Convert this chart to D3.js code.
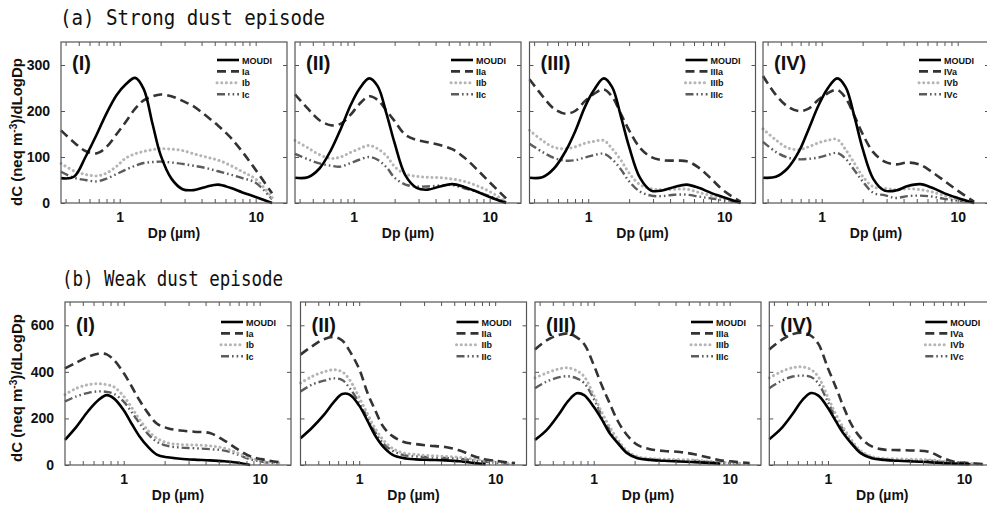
<!DOCTYPE html>
<html>
<head>
<meta charset="utf-8">
<script src="https://cdn.jsdelivr.net/npm/d3@7"></script>
<style>
body { margin: 0; background: #fff; }
svg { display: block; }
</style>
</head>
<body>
<div id="chart"></div>
<script>
// size distributions, dC/dLogDp vs Dp

var panelNames = ["I", "II", "III", "IV"];
var xTickLabels = [1, 10];
var strongTicks = [0, 100, 200, 300];
var weakTicks = [0, 200, 400, 600];

// (a) strong dust episode: Dp grid (um)
var topDp = [0.37, 0.46, 0.56, 0.68, 0.8, 0.95, 1.1, 1.3, 1.5, 1.75, 2.0, 2.4, 2.9, 3.5, 4.3, 5.3, 6.5, 8, 10, 13.2];

var strongMOUDI = [
  [54, 57, 100, 150, 195, 235, 257, 272, 248, 170, 104, 53, 30, 28, 35, 40, 33, 23, 13, 0],
  [55, 56, 75, 115, 160, 213, 248, 271, 254, 192, 130, 60, 33, 29, 36, 41, 35, 25, 13, 0],
  [55, 56, 75, 112, 155, 210, 245, 271, 252, 185, 122, 55, 27, 27, 35, 40, 33, 22, 12, 0],
  [55, 57, 75, 112, 160, 213, 248, 271, 252, 185, 118, 52, 27, 27, 37, 41, 33, 21, 11, 0]
];
var strongA = [
  [158, 132, 113, 108, 122, 150, 175, 205, 223, 232, 236, 232, 222, 210, 190, 168, 143, 111, 72, 21],
  [236, 205, 180, 169, 172, 192, 215, 232, 224, 200, 178, 148, 137, 132, 126, 117, 99, 74, 45, 10],
  [269, 233, 205, 194, 200, 222, 237, 247, 231, 192, 158, 120, 100, 93, 92, 91, 77, 53, 26, 3],
  [276, 235, 210, 200, 205, 225, 238, 246, 228, 188, 150, 110, 90, 84, 88, 83, 67, 48, 27, 3]
];
var strongB = [
  [86, 70, 62, 59, 65, 80, 97, 107, 112, 116, 118, 117, 114, 107, 100, 93, 82, 68, 52, 12],
  [136, 120, 105, 97, 100, 110, 118, 125, 118, 102, 79, 63, 58, 56, 55, 52, 47, 38, 25, 3],
  [158, 136, 121, 118, 122, 130, 134, 136, 118, 92, 65, 40, 31, 29, 30, 30, 23, 16, 9, 1],
  [161, 137, 120, 116, 122, 131, 136, 138, 116, 85, 58, 35, 32, 29, 31, 29, 24, 16, 8, 1]
];
var strongC = [
  [68, 55, 50, 47, 53, 63, 72, 81, 87, 89, 90, 88, 85, 81, 76, 69, 62, 54, 44, 8],
  [107, 95, 86, 81, 79, 87, 94, 100, 94, 77, 55, 40, 36, 36, 38, 39, 32, 25, 15, 2],
  [129, 111, 98, 92, 93, 99, 104, 107, 95, 72, 47, 25, 16, 15, 18, 18, 14, 10, 6, 1],
  [133, 111, 99, 95, 96, 99, 104, 109, 96, 70, 47, 22, 17, 11, 15, 16, 14, 9, 5, 1]
];

// (b) weak dust episode: Dp grid (um)
var bottomDp = [0.37, 0.45, 0.55, 0.65, 0.75, 0.85, 1.0, 1.15, 1.3, 1.5, 1.75, 2.1, 2.6, 3.3, 4.3, 5.5, 7, 8.5, 11, 14];

var weakMOUDI = [
  [108, 165, 233, 278, 300, 285, 235, 175, 125, 80, 45, 33, 27, 23, 20, 16, 10, 0, null, null],
  [115, 160, 215, 270, 305, 302, 255, 190, 130, 79, 45, 30, 24, 22, 20, 16, 8, 3, null, null],
  [108, 150, 215, 275, 308, 300, 250, 195, 140, 95, 52, 29, 22, 18, 15, 12, 9, 5, null, null],
  [111, 155, 220, 280, 309, 298, 245, 185, 135, 90, 50, 29, 22, 18, 15, 12, 8, 6, 3, null]
];
var weakA = [
  [415, 440, 465, 478, 475, 450, 395, 335, 280, 225, 178, 158, 148, 143, 137, 105, 65, 38, 22, 12],
  [474, 510, 540, 550, 535, 490, 412, 310, 240, 165, 125, 100, 90, 83, 77, 62, 38, 24, 15, 8],
  [496, 535, 558, 565, 548, 520, 430, 340, 270, 190, 130, 86, 68, 60, 56, 46, 32, 20, 14, 8],
  [496, 535, 562, 568, 555, 520, 415, 330, 250, 170, 115, 80, 66, 64, 62, 57, 30, 14, 8, 4]
];
var weakB = [
  [302, 330, 345, 349, 345, 335, 295, 245, 198, 150, 115, 95, 88, 86, 82, 72, 50, 30, 15, 8],
  [352, 380, 400, 409, 400, 366, 290, 220, 160, 108, 72, 52, 45, 40, 37, 33, 25, 20, 12, 5],
  [374, 395, 412, 417, 405, 380, 300, 225, 168, 110, 62, 36, 28, 25, 23, 21, 16, 12, 9, 5],
  [374, 400, 418, 421, 410, 378, 290, 215, 160, 105, 60, 36, 28, 26, 24, 22, 17, 12, 6, 3]
];
var weakC = [
  [273, 295, 310, 316, 314, 305, 272, 225, 182, 135, 100, 82, 75, 72, 68, 62, 43, 25, 12, 6],
  [316, 345, 362, 372, 365, 330, 268, 205, 145, 93, 62, 43, 37, 33, 30, 27, 19, 14, 8, 3],
  [330, 358, 376, 381, 372, 352, 285, 210, 155, 100, 55, 32, 24, 21, 19, 18, 13, 10, 7, 4],
  [330, 360, 380, 384, 378, 350, 270, 200, 150, 95, 55, 32, 24, 20, 19, 18, 14, 10, 5, 3]
];

var svgWidth = 987;
var svgHeight = 511;
var panelW = 226;
var boldFont = "'Liberation Sans', Arial, sans-serif";

var svg = d3.select("#chart")
  .append("svg")
  .attr("width", svgWidth)
  .attr("height", svgHeight);

// line looks: MOUDI, a, b, c
var looks = [
  { stroke: "#000", width: 2.6, dash: null, cap: "butt" },
  { stroke: "#333", width: 2.6, dash: "9,5", cap: "butt" },
  { stroke: "#b5b5b5", width: 3, dash: "0.1,4.6", cap: "round" },
  { stroke: "#5c5c5c", width: 2.4, dash: "8,3,1.6,3,1.6,3", cap: "butt" }
];

var rows = [
  { title: "(a) Strong dust episode", titleX: 60, titleY: 25, titleLen: 265,
    top: 42, h: 161, lefts: [61, 295, 529.5, 763], dp: topDp, ymax: 350,
    yTicks: strongTicks, series: [strongMOUDI, strongA, strongB, strongC],
    legY: 18, labY: 28, ylabY: 132 },
  { title: "(b) Weak dust episode", titleX: 62, titleY: 286, titleLen: 221,
    top: 302, h: 163, lefts: [65, 300.5, 535, 769.3], dp: bottomDp, ymax: 700,
    yTicks: weakTicks, series: [weakMOUDI, weakA, weakB, weakC],
    legY: 20, labY: 30, ylabY: 388 }
];

var minorTicks = d3.range(4, 10).map(d => d / 10)
  .concat(d3.range(1, 10)).concat([10]);

rows.forEach(function(row) {
  svg.append("text")
    .attr("x", row.titleX)
    .attr("y", row.titleY)
    .attr("font-family", "'DejaVu Sans Mono', monospace")
    .attr("font-size", 21)
    .attr("textLength", row.titleLen)
    .attr("lengthAdjust", "spacingAndGlyphs")
    .attr("fill", "#111")
    .text(row.title);

  // y axis title
  var yl = svg.append("text")
    .attr("transform", `translate(22, ${row.ylabY}) rotate(-90)`)
    .attr("text-anchor", "middle")
    .attr("font-family", boldFont)
    .attr("font-weight", "bold")
    .attr("font-size", 15)
    .attr("fill", "#111");
  yl.append("tspan").text("dC (neq m");
  yl.append("tspan").attr("dy", -5).attr("font-size", 10).text("-3");
  yl.append("tspan").attr("dy", 5).text(")/dLogDp");

  row.lefts.forEach(function(left, p) {
    var x = d3.scaleLog().domain([0.37, 17]).range([0, panelW]);
    var y = d3.scaleLinear().domain([0, row.ymax]).range([row.h, 0]);

    var g = svg.append("g")
      .attr("transform", `translate(${left}, ${row.top})`);

    var line = d3.line()
      .defined(d => d[1] != null)
      .x(d => x(d[0]))
      .y(d => y(d[1]))
      .curve(d3.curveCatmullRom.alpha(0.5));

    // draw c, b, a, then MOUDI on top
    [3, 2, 1, 0].forEach(function(s) {
      var pts = row.dp.map((dp, i) => [dp, row.series[s][p][i]]);
      g.append("path")
        .datum(pts)
        .attr("fill", "none")
        .attr("stroke", looks[s].stroke)
        .attr("stroke-width", looks[s].width)
        .attr("stroke-dasharray", looks[s].dash)
        .attr("stroke-linecap", looks[s].cap)
        .attr("d", line);
    });

    // axes, ticks pointing inward
    var bottomAxis = d3.axisBottom(x)
      .tickValues(minorTicks)
      .tickSizeInner(-4).tickSizeOuter(0).tickPadding(9)
      .tickFormat(d => xTickLabels.indexOf(d) >= 0 ? d : "");
    var topAxis = d3.axisTop(x).tickValues(minorTicks)
      .tickSizeInner(-4).tickSizeOuter(0).tickFormat("");
    var leftAxis = d3.axisLeft(y).tickValues(row.yTicks)
      .tickSizeInner(-4).tickSizeOuter(0).tickPadding(11)
      .tickFormat(p === 0 ? d3.format("d") : "");
    var rightAxis = d3.axisRight(y).tickValues(row.yTicks)
      .tickSizeInner(-4).tickSizeOuter(0).tickFormat("");

    [[bottomAxis, `translate(0, ${row.h})`], [topAxis, null],
     [leftAxis, null], [rightAxis, `translate(${panelW}, 0)`]].forEach(function(a) {
      var ag = g.append("g").call(a[0]);
      if (a[1]) ag.attr("transform", a[1]);
      ag.select(".domain").remove();
      ag.selectAll("line").attr("stroke", "#555");
      ag.attr("font-family", boldFont).attr("font-size", 14).attr("font-weight", "bold");
      ag.selectAll("text").attr("fill", "#111");
    });

    g.append("rect")
      .attr("width", panelW)
      .attr("height", row.h)
      .attr("fill", "none")
      .attr("stroke", "#555")
      .attr("stroke-width", 1.2);

    g.append("text")
      .attr("x", panelW / 2)
      .attr("y", row.h + 35)
      .attr("text-anchor", "middle")
      .attr("font-family", boldFont)
      .attr("font-weight", "bold")
      .attr("font-size", 14)
      .attr("fill", "#111")
      .text("Dp (\u00b5m)");

    g.append("text")
      .attr("x", 11)
      .attr("y", row.labY)
      .attr("font-family", boldFont)
      .attr("font-weight", "bold")
      .attr("font-size", 20)
      .attr("fill", "#111")
      .text("(" + panelNames[p] + ")");

    // legend
    var names = ["MOUDI"].concat(["a", "b", "c"].map(c => panelNames[p] + c));
    names.forEach(function(nm, s) {
      var ly = row.legY + s * 11.4;
      g.append("line")
        .attr("x1", 156).attr("x2", 178)
        .attr("y1", ly).attr("y2", ly)
        .attr("stroke", looks[s].stroke)
        .attr("stroke-width", looks[s].width)
        .attr("stroke-dasharray", looks[s].dash)
        .attr("stroke-linecap", looks[s].cap);
      g.append("text")
        .attr("x", 181)
        .attr("y", ly + 3.5)
        .attr("font-family", boldFont)
        .attr("font-weight", "bold")
        .attr("font-size", 9)
        .attr("fill", "#111")
        .text(nm);
    });
  });
});
</script>
</body>
</html>
